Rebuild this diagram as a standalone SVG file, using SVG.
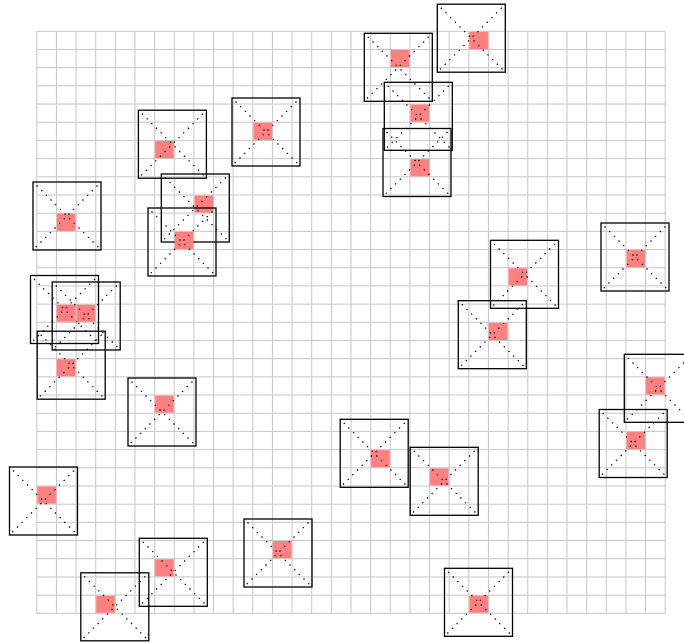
<svg xmlns="http://www.w3.org/2000/svg" xmlns:xlink="http://www.w3.org/1999/xlink" width="684" height="643" viewBox="0 0 684 643">
<style>
.grid{fill:none;stroke:#c6c6c6;stroke-width:1}
.cell{fill:#ff8080}
.box{fill:none;stroke:#000;stroke-width:1.3}
.diag{fill:none;stroke:#000;stroke-width:1.2;stroke-dasharray:1.4 5.2;stroke-dashoffset:-5}
</style>
<defs>
<g id="frame">
<rect class="box" x="-34" y="-34" width="68" height="68"/>
<path class="diag" d="M-34 -34L34 34M34 -34L-34 34"/>
</g>
</defs>
<rect width="684" height="643" fill="#fff"/>
<g id="grid">
<path class="grid" d="M36.8 31.3V613.3M56.44 31.3V613.3M76.08 31.3V613.3M95.71 31.3V613.3M115.35 31.3V613.3M134.99 31.3V613.3M154.63 31.3V613.3M174.26 31.3V613.3M193.9 31.3V613.3M213.54 31.3V613.3M233.18 31.3V613.3M252.81 31.3V613.3M272.45 31.3V613.3M292.09 31.3V613.3M311.73 31.3V613.3M331.36 31.3V613.3M351 31.3V613.3M370.64 31.3V613.3M390.28 31.3V613.3M409.91 31.3V613.3M429.55 31.3V613.3M449.19 31.3V613.3M468.83 31.3V613.3M488.46 31.3V613.3M508.1 31.3V613.3M527.74 31.3V613.3M547.38 31.3V613.3M567.01 31.3V613.3M586.65 31.3V613.3M606.29 31.3V613.3M625.93 31.3V613.3M645.56 31.3V613.3M665.2 31.3V613.3"/>
<path class="grid" d="M36.8 31.3H665.2M36.8 49.49H665.2M36.8 67.68H665.2M36.8 85.86H665.2M36.8 104.05H665.2M36.8 122.24H665.2M36.8 140.43H665.2M36.8 158.61H665.2M36.8 176.8H665.2M36.8 194.99H665.2M36.8 213.18H665.2M36.8 231.36H665.2M36.8 249.55H665.2M36.8 267.74H665.2M36.8 285.93H665.2M36.8 304.11H665.2M36.8 322.3H665.2M36.8 340.49H665.2M36.8 358.68H665.2M36.8 376.86H665.2M36.8 395.05H665.2M36.8 413.24H665.2M36.8 431.43H665.2M36.8 449.61H665.2M36.8 467.8H665.2M36.8 485.99H665.2M36.8 504.18H665.2M36.8 522.36H665.2M36.8 540.55H665.2M36.8 558.74H665.2M36.8 576.93H665.2M36.8 595.11H665.2M36.8 613.3H665.2"/>
</g>
<g id="nodes">
<g id="node1"><rect class="cell" x="469.33" y="31.8" width="18.64" height="17.19"/><use xlink:href="#frame" transform="translate(471.3 38.2)"/></g>
<g id="node2"><rect class="cell" x="390.78" y="49.99" width="18.64" height="17.19"/><use xlink:href="#frame" transform="translate(398.3 67.3)"/></g>
<g id="node3"><rect class="cell" x="410.41" y="104.55" width="18.64" height="17.19"/><use xlink:href="#frame" transform="translate(418.3 116.3)"/></g>
<g id="node4"><rect class="cell" x="410.41" y="159.11" width="18.64" height="17.19"/><use xlink:href="#frame" transform="translate(417 162.5)"/></g>
<g id="node5"><rect class="cell" x="155.13" y="140.93" width="18.64" height="17.19"/><use xlink:href="#frame" transform="translate(172.4 144.2)"/></g>
<g id="node6"><rect class="cell" x="253.31" y="122.74" width="18.64" height="17.19"/><use xlink:href="#frame" transform="translate(266 132)"/></g>
<g id="node7"><rect class="cell" x="194.4" y="195.49" width="18.64" height="17.19"/><use xlink:href="#frame" transform="translate(195.3 208)"/></g>
<g id="node8"><rect class="cell" x="174.76" y="231.86" width="18.64" height="17.19"/><use xlink:href="#frame" transform="translate(182 242)"/></g>
<g id="node9"><rect class="cell" x="56.94" y="213.68" width="18.64" height="17.19"/><use xlink:href="#frame" transform="translate(67 216)"/></g>
<g id="node10"><rect class="cell" x="56.94" y="304.61" width="18.64" height="17.19"/><use xlink:href="#frame" transform="translate(64.5 309.5)"/></g>
<g id="node11"><rect class="cell" x="76.58" y="304.61" width="18.64" height="17.19"/><use xlink:href="#frame" transform="translate(86.2 316)"/></g>
<g id="node12"><rect class="cell" x="56.94" y="359.18" width="18.64" height="17.19"/><use xlink:href="#frame" transform="translate(71.2 365.2)"/></g>
<g id="node13"><rect class="cell" x="155.13" y="395.55" width="18.64" height="17.19"/><use xlink:href="#frame" transform="translate(162 412)"/></g>
<g id="node14"><rect class="cell" x="37.3" y="486.49" width="18.64" height="17.19"/><use xlink:href="#frame" transform="translate(43.5 501)"/></g>
<g id="node15"><rect class="cell" x="155.13" y="559.24" width="18.64" height="17.19"/><use xlink:href="#frame" transform="translate(173.3 572.3)"/></g>
<g id="node16"><rect class="cell" x="96.21" y="595.61" width="18.64" height="17.19"/><use xlink:href="#frame" transform="translate(114.8 606.8)"/></g>
<g id="node17"><rect class="cell" x="272.95" y="541.05" width="18.64" height="17.19"/><use xlink:href="#frame" transform="translate(278 553)"/></g>
<g id="node18"><rect class="cell" x="371.14" y="450.11" width="18.64" height="17.19"/><use xlink:href="#frame" transform="translate(374.2 453.3)"/></g>
<g id="node19"><rect class="cell" x="430.05" y="468.3" width="18.64" height="17.19"/><use xlink:href="#frame" transform="translate(444.2 481.3)"/></g>
<g id="node20"><rect class="cell" x="469.33" y="595.61" width="18.64" height="17.19"/><use xlink:href="#frame" transform="translate(478.5 602.3)"/></g>
<g id="node21"><rect class="cell" x="508.6" y="268.24" width="18.64" height="17.19"/><use xlink:href="#frame" transform="translate(524.5 274.3)"/></g>
<g id="node22"><rect class="cell" x="488.96" y="322.8" width="18.64" height="17.19"/><use xlink:href="#frame" transform="translate(492.3 334.7)"/></g>
<g id="node23"><rect class="cell" x="626.43" y="250.05" width="18.64" height="17.19"/><use xlink:href="#frame" transform="translate(635 257)"/></g>
<g id="node24"><rect class="cell" x="646.06" y="377.36" width="18.64" height="17.19"/><use xlink:href="#frame" transform="translate(658.3 388.3)"/></g>
<g id="node25"><rect class="cell" x="626.43" y="431.93" width="18.64" height="17.19"/><use xlink:href="#frame" transform="translate(633.2 443.5)"/></g>
</g>
<g id="connectors"/>
</svg>
